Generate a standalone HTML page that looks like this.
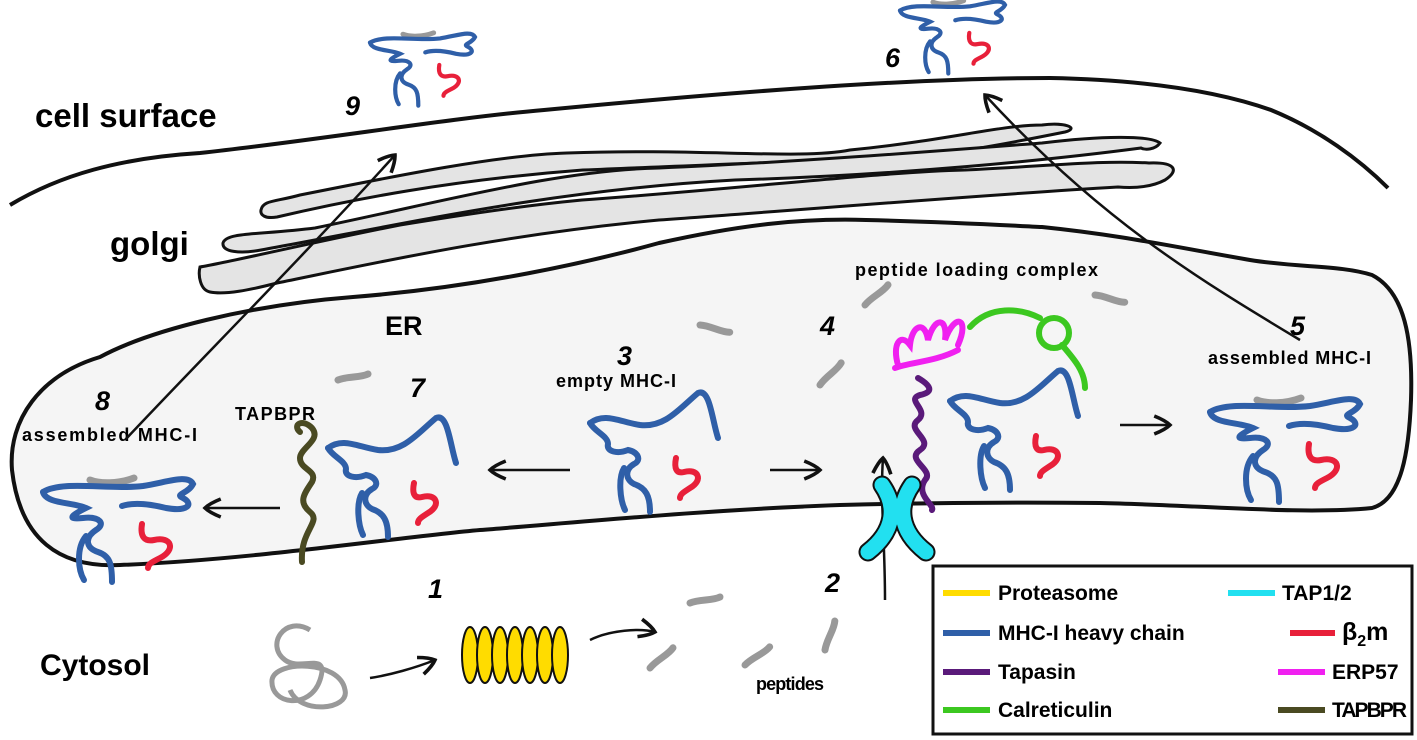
<!DOCTYPE html>
<html><head><meta charset="utf-8"><style>
html,body{margin:0;padding:0;background:#fff;}
svg{display:block}
text{font-family:"Liberation Sans",sans-serif;font-weight:bold;fill:#000}
</style></head><body>
<svg width="1417" height="740" viewBox="0 0 1417 740" xmlns="http://www.w3.org/2000/svg">
<defs>
<marker id="ah" viewBox="0 0 10 10" refX="8" refY="5" markerWidth="9" markerHeight="9" orient="auto"><path d="M1,1 Q6,3 8,5 Q6,7 1,9" fill="none" stroke="#111" stroke-width="1.6"/></marker>
<g id="mhcE" fill="none" stroke-linecap="round" stroke-width="6">
<path d="M10,63 C25,52 40,62 60,65 C85,68 100,48 118,33 C130,28 132,60 138,78" stroke="#2f5fa8"/>
<path d="M10,63 C15,72 28,76 28,84 C26,92 38,94 48,90 C58,92 62,100 54,104 C44,110 46,120 54,124 C66,128 70,136 70,152" stroke="#2f5fa8"/>
<path d="M44,108 C38,118 40,140 45,150" stroke="#2f5fa8"/>
<path d="M96,98 C94,108 96,114 104,112 C118,108 124,120 110,128 C104,132 100,134 100,138" stroke="#e8203a"/>
</g>
<g id="mhcA" fill="none" stroke-linecap="round" stroke-width="6">
<path d="M52,28 C62,32 80,32 96,26" stroke="#999" stroke-width="7"/>
<path d="M5,40 C25,28 70,38 105,34 C130,30 150,22 155,32 C150,42 136,42 145,46 C156,52 150,60 128,56 C112,52 96,50 84,54" stroke="#2f5fa8"/>
<path d="M5,40 C8,52 35,50 48,56 C36,62 26,68 45,66 C62,64 68,72 58,78 C46,86 48,96 60,100 C72,104 74,112 74,130" stroke="#2f5fa8"/>
<path d="M48,84 C38,96 40,118 46,128" stroke="#2f5fa8"/>
<path d="M104,72 C102,84 106,90 116,88 C134,84 138,98 122,106 C114,110 110,112 110,116" stroke="#e8203a"/>
</g>
<g id="pep"><path d="M0,0 C10,-4 22,-2 30,-6" fill="none" stroke="#999" stroke-width="7" stroke-linecap="round"/></g>
</defs>

<!-- cell surface -->
<path d="M10,205 C60,175 120,158 200,153 C320,140 450,118 544,110 C700,95 900,78 1050,78 C1150,80 1220,92 1271,110 C1320,130 1360,160 1388,188" fill="none" stroke="#111" stroke-width="4"/>

<!-- golgi -->
<g fill="#e4e4e4" stroke="#111" stroke-width="3">
<path d="M261,210 C263,200 275,202 300,195 C400,175 500,155 567,153 C700,148 800,160 850,150 C950,140 1000,125 1042,125 C1065,122 1080,128 1065,132 C1000,145 950,155 889,157 C800,162 700,165 583,170 C450,180 350,200 277,217 C265,219 260,215 261,210 Z"/>
<path d="M223,243 C226,232 260,235 315,228 C450,200 560,170 659,168 C800,162 950,150 1042,143 C1100,136 1150,135 1160,143 C1155,150 1145,150 1141,148 C1050,160 900,175 735,180 C550,190 400,225 261,250 C240,254 222,252 223,243 Z"/>
<path d="M200,267 C230,262 300,245 400,225 C480,212 530,205 582,200 C750,188 880,172 965,170 C1050,166 1100,160 1149,163 C1175,162 1180,170 1165,180 C1150,188 1130,188 1118,187 C980,195 800,210 659,220 C500,235 380,262 277,283 C250,290 225,295 210,292 C200,290 198,275 200,267 Z"/>
</g>

<!-- ER -->
<path d="M100,357 C150,330 250,305 353,297 C480,287 590,262 659,243 C740,225 800,218 866,220 C950,222 1000,225 1042,227 C1120,235 1170,246 1250,260 C1300,268 1340,265 1372,275 C1405,292 1413,340 1411,400 C1409,450 1402,500 1372,508 C1300,515 1200,505 1100,503 C1000,502 920,503 840,505 C700,510 560,524 480,530 C400,537 250,560 120,565 C60,568 20,540 12,470 C8,420 40,375 100,357 Z" fill="#f5f5f5" stroke="#111" stroke-width="4"/>

<!-- labels -->
<text x="35" y="127" font-size="33">cell surface</text>
<text x="110" y="255" font-size="33">golgi</text>
<text x="385" y="335" font-size="27">ER</text>
<text x="40" y="675" font-size="30">Cytosol</text>
<g font-style="italic" font-size="27">
<text x="345" y="115">9</text><text x="885" y="67">6</text>
<text x="617" y="365">3</text><text x="820" y="335">4</text><text x="1290" y="335">5</text>
<text x="410" y="397">7</text><text x="95" y="410">8</text>
<text x="428" y="598">1</text><text x="825" y="592">2</text>
</g>
<g font-size="18">
<text x="556" y="387" textLength="120">empty MHC-I</text>
<text x="855" y="276" textLength="243">peptide loading complex</text>
<text x="1208" y="364" textLength="163">assembled MHC-I</text>
<text x="22" y="441" textLength="175">assembled MHC-I</text>
<text x="235" y="420" textLength="80">TAPBPR</text>
<text x="756" y="690" textLength="68">peptides</text>
</g>

<!-- MHC molecules -->
<use href="#mhcE" x="580" y="360"/>
<use href="#mhcE" x="318" y="385"/>
<use href="#mhcE" x="940" y="338"/>
<use href="#mhcA" x="1205" y="372"/>
<use href="#mhcA" x="38" y="452"/>
<use href="#mhcA" x="365" y="8" transform="translate(370,30) scale(0.7) translate(-370,-30)"/>
<use href="#mhcA" x="895" y="-25" transform="translate(900,0) scale(0.7) translate(-900,0)"/>

<!-- TAPBPR -->
<path d="M300,432 C292,425 302,418 312,428 C322,440 300,448 300,458 C300,470 318,470 312,482 C304,494 298,502 310,512 C322,522 300,530 302,562" fill="none" stroke="#4a4a22" stroke-width="6" stroke-linecap="round"/>
<!-- tapasin -->
<path d="M918,378 C930,385 935,392 920,395 C905,400 930,410 918,420 C905,430 935,440 920,450 C905,460 935,470 925,480 C915,495 935,505 932,510" fill="none" stroke="#5a1a7a" stroke-width="6" stroke-linecap="round"/>
<!-- ERP57 -->
<path d="M898,365 C892,345 900,332 910,345 C912,325 925,320 928,340 C935,315 948,318 945,340 C955,312 970,318 958,345 M895,368 C910,362 935,362 958,350" fill="none" stroke="#f020f0" stroke-width="6" stroke-linecap="round"/>
<!-- calreticulin -->
<path d="M970,327 C990,305 1020,308 1040,318 M1062,345 C1075,360 1085,372 1085,388" fill="none" stroke="#3cc820" stroke-width="6" stroke-linecap="round"/>
<circle cx="1054" cy="333" r="15" fill="none" stroke="#3cc820" stroke-width="6"/>

<!-- arrows -->
<g fill="none" stroke="#111" stroke-width="2.5" marker-end="url(#ah)">
<path d="M370,678 C390,675 415,668 435,660"/>
<path d="M590,640 C610,630 640,628 655,632"/>
<path d="M885,600 C885,540 880,500 883,458"/>
<path d="M770,470 L820,470"/>
<path d="M1120,425 L1170,425"/>
<path d="M570,470 L490,470"/>
<path d="M280,508 L205,508"/>
<path d="M125,440 C200,360 300,260 395,155"/>
<path d="M1300,340 C1200,280 1100,220 985,95"/>
</g>

<!-- TAP -->
<g fill="none" stroke-linecap="round">
<path d="M882,485 C896,505 896,530 868,552" stroke="#111" stroke-width="19"/>
<path d="M912,485 C898,505 898,530 926,552" stroke="#111" stroke-width="19"/>
<path d="M882,485 C896,505 896,530 868,552" stroke="#22e0f0" stroke-width="15"/>
<path d="M912,485 C898,505 898,530 926,552" stroke="#22e0f0" stroke-width="15"/>
</g>

<!-- peptides -->
<use href="#pep" x="700" y="325" transform="rotate(25 700 325)"/>
<use href="#pep" x="865" y="305" transform="rotate(-30 865 305)"/>
<use href="#pep" x="1095" y="295" transform="rotate(25 1095 295)"/>
<use href="#pep" x="820" y="385" transform="rotate(-35 820 385)"/>
<use href="#pep" x="338" y="380"/>
<use href="#pep" x="690" y="603"/>
<use href="#pep" x="650" y="668" transform="rotate(-30 650 668)"/>
<use href="#pep" x="745" y="665" transform="rotate(-25 745 665)"/>
<use href="#pep" x="825" y="650" transform="rotate(-60 825 650)"/>

<!-- unfolded protein -->
<path d="M310,630 C285,615 265,645 285,660 C300,672 330,650 320,680 C310,710 270,705 272,680 C275,660 340,660 345,690 C350,710 300,715 290,690" fill="none" stroke="#999" stroke-width="5"/>
<!-- proteasome -->
<g fill="#ffdc00" stroke="#111" stroke-width="2">
<ellipse cx="470" cy="655" rx="8" ry="28"/><ellipse cx="485" cy="655" rx="8" ry="28"/><ellipse cx="500" cy="655" rx="8" ry="28"/><ellipse cx="515" cy="655" rx="8" ry="28"/><ellipse cx="530" cy="655" rx="8" ry="28"/><ellipse cx="545" cy="655" rx="8" ry="28"/><ellipse cx="560" cy="655" rx="8" ry="28"/>
</g>

<!-- legend -->
<rect x="933" y="566" width="479" height="168" fill="#fff" stroke="#111" stroke-width="3"/>
<g stroke-width="6" stroke-linecap="butt">
<line x1="943" y1="593" x2="990" y2="593" stroke="#ffdc00"/>
<line x1="943" y1="633" x2="990" y2="633" stroke="#2f5fa8"/>
<line x1="943" y1="672" x2="990" y2="672" stroke="#5a1a7a"/>
<line x1="943" y1="710" x2="990" y2="710" stroke="#3cc820"/>
<line x1="1228" y1="593" x2="1275" y2="593" stroke="#22e0f0"/>
<line x1="1290" y1="633" x2="1335" y2="633" stroke="#e8203a"/>
<line x1="1278" y1="672" x2="1325" y2="672" stroke="#f020f0"/>
<line x1="1278" y1="710" x2="1325" y2="710" stroke="#4a4a22"/>
</g>
<g font-size="21">
<text x="998" y="600">Proteasome</text>
<text x="998" y="640">MHC-I heavy chain</text>
<text x="998" y="679">Tapasin</text>
<text x="998" y="717">Calreticulin</text>
<text x="1282" y="600">TAP1/2</text>
<text x="1342" y="640" font-size="25">β<tspan font-size="16" dy="6">2</tspan><tspan dy="-6">m</tspan></text>
<text x="1332" y="679">ERP57</text>
<text x="1332" y="717" textLength="75">TAPBPR</text>
</g>
</svg>
</body></html>
